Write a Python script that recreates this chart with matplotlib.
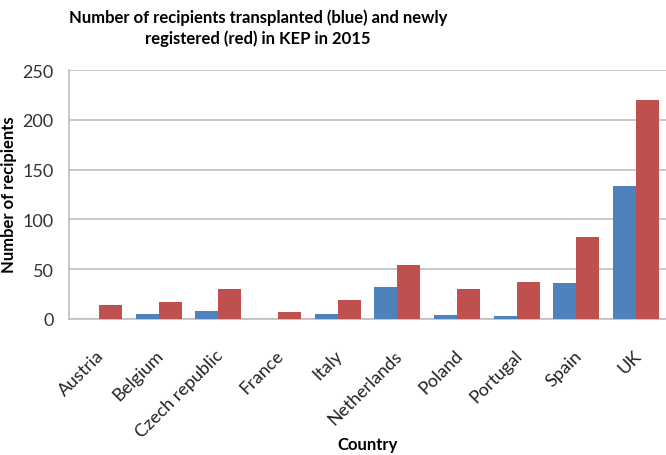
import numpy as np
import matplotlib
matplotlib.use("Agg")
import matplotlib.pyplot as plt
import matplotlib.transforms as mtransforms

# values
countries = ["Austria", "Belgium", "Czech republic", "France", "Italy",
             "Netherlands", "Poland", "Portugal", "Spain", "UK"]
transplanted = [0, 5, 8, 0, 5, 32, 4, 3, 36, 134]
registered = [14, 17, 30, 7, 19, 54, 30, 37, 82, 220]
y_ticks = [0, 50, 100, 150, 200, 250]

blue = "#4F81BD"
red = "#C0504D"
grid_col = "#BFBFBF"

plt.rcParams["font.family"] = ["Lato", "DejaVu Sans"]

fig = plt.figure(figsize=(6.66, 4.56), dpi=100)
ax = fig.add_axes([69 / 666, 1 - 320 / 456, 597 / 666, 249 / 456])

x = np.arange(len(countries))
w = 0.386
ax.bar(x - w / 2, transplanted, width=w, color=blue, zorder=3)
ax.bar(x + w / 2, registered, width=w, color=red, zorder=3)

ax.set_xlim(-0.5, len(countries) - 0.5)
ax.set_ylim(0, 250)
ax.set_yticks(y_ticks)
ax.yaxis.grid(True, color=grid_col, linewidth=1.2, zorder=0)
ax.tick_params(axis="y", length=0, labelsize=13, colors="#333333", pad=11)
ax.tick_params(axis="x", length=0, labelsize=13, colors="#222222", pad=20)
ax.set_xticks(x)
ax.set_xticklabels(countries, rotation=45, ha="right", rotation_mode="anchor")
shift = mtransforms.ScaledTranslation(-3 / 100, 0, fig.dpi_scale_trans)
for lbl in ax.get_xticklabels():
    lbl.set_transform(lbl.get_transform() + shift)

for side in ["top", "right"]:
    ax.spines[side].set_visible(False)
for side in ["left", "bottom"]:
    ax.spines[side].set_color(grid_col)
    ax.spines[side].set_linewidth(1.2)

# y label sits right at the left edge, as in the reference
ax.set_ylabel("Number of recipients", fontsize=12, fontweight="bold")
ax.yaxis.set_label_coords(17 / 666, 1 - 195 / 456, transform=fig.transFigure)
ax.set_xlabel("Country", fontsize=12, fontweight="bold")
ax.xaxis.set_label_coords(368 / 666, 1 - 445 / 456, transform=fig.transFigure)
ax.xaxis.label.set_va("center")

fig.text(258 / 666, 1 - 28 / 456,
         "Number of recipients transplanted (blue) and newly\nregistered (red) in KEP in 2015",
         ha="center", va="center", fontsize=12, fontweight="bold", linespacing=1.35)

fig.savefig("out.png", dpi=100)
